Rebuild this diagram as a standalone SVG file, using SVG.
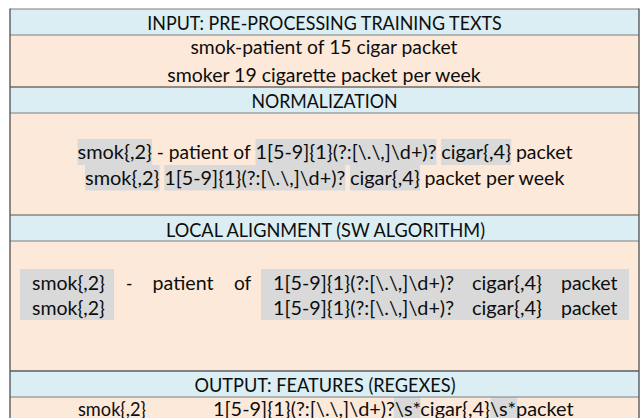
<svg xmlns="http://www.w3.org/2000/svg" width="644" height="418" viewBox="0 0 644 418">
  <style>
    .hdr { fill: #DAEEF3; }
    .body { fill: #FDE9D9; }
    .hl { fill: #D9D9D9; }
    .t { font-family: Lato, "Liberation Sans", "DejaVu Sans", sans-serif; font-size: 18.5px; fill: #0d0d0d; }
    .c { text-anchor: middle; }
    .sep { stroke: #7f7f7f; stroke-width: 1.2; }
    .sepd { stroke: #303030; stroke-width: 1.2; }
    .side { stroke: #5a5a5a; stroke-width: 1.4; }
  </style>
  <rect x="0" y="0" width="644" height="418" fill="#ffffff"/>

  <g id="input-header">
    <rect class="hdr" x="10" y="9" width="629" height="26"/>
    <text class="t c" x="324.5" y="29.5" textLength="354.5" lengthAdjust="spacingAndGlyphs">INPUT: PRE-PROCESSING TRAINING TEXTS</text>
  </g>
  <g id="input-body">
    <rect class="body" x="10" y="35" width="629" height="52"/>
    <text class="t c" x="324" y="53.5" textLength="267" lengthAdjust="spacingAndGlyphs">smok-patient of 15 cigar packet</text>
    <text class="t c" x="324" y="81.5" textLength="313.5" lengthAdjust="spacingAndGlyphs">smoker 19 cigarette packet per week</text>
  </g>

  <g id="normalization-header">
    <rect class="hdr" x="10" y="87" width="629" height="26"/>
    <text class="t c" x="324.5" y="108" textLength="146" lengthAdjust="spacingAndGlyphs">NORMALIZATION</text>
  </g>
  <g id="normalization-body">
    <rect class="body" x="10" y="113" width="629" height="102"/>
    <rect class="hl" x="77.5" y="139" width="74.6" height="26"/>
    <rect class="hl" x="255.5" y="139" width="181" height="26"/>
    <rect class="hl" x="441.2" y="139" width="70" height="26"/>
    <rect class="hl" x="85" y="165" width="74.6" height="25.5"/>
    <rect class="hl" x="164.3" y="165" width="181" height="25.5"/>
    <rect class="hl" x="349.9" y="165" width="70" height="25.5"/>
    <text class="t" x="77.5" y="159" textLength="74.5" lengthAdjust="spacingAndGlyphs">smok{,2}</text>
    <text class="t" x="156.8" y="159" textLength="94" lengthAdjust="spacingAndGlyphs">- patient of</text>
    <text class="t" x="255.5" y="159" textLength="181" lengthAdjust="spacingAndGlyphs">1[5-9]{1}(?:[\.\,]\d+)?</text>
    <text class="t" x="441.2" y="159" textLength="70" lengthAdjust="spacingAndGlyphs">cigar{,4}</text>
    <text class="t" x="515.9" y="159" textLength="56.5" lengthAdjust="spacingAndGlyphs">packet</text>
    <text class="t" x="85" y="184.5" textLength="74.5" lengthAdjust="spacingAndGlyphs">smok{,2}</text>
    <text class="t" x="164.3" y="184.5" textLength="181" lengthAdjust="spacingAndGlyphs">1[5-9]{1}(?:[\.\,]\d+)?</text>
    <text class="t" x="349.9" y="184.5" textLength="70" lengthAdjust="spacingAndGlyphs">cigar{,4}</text>
    <text class="t" x="424.6" y="184.5" textLength="139.7" lengthAdjust="spacingAndGlyphs">packet per week</text>
  </g>

  <g id="alignment-header">
    <rect class="hdr" x="10" y="215" width="629" height="26"/>
    <text class="t c" x="325.5" y="237" textLength="319" lengthAdjust="spacingAndGlyphs">LOCAL ALIGNMENT (SW ALGORITHM)</text>
  </g>
  <g id="alignment-body">
    <rect class="body" x="10" y="241" width="629" height="130"/>
    <rect class="hl" x="20" y="269" width="94" height="51"/>
    <rect class="hl" x="261" y="269" width="368" height="51"/>
    <text class="t" x="32" y="290" textLength="73" lengthAdjust="spacingAndGlyphs">smok{,2}</text>
    <text class="t" x="126" y="290" textLength="6.4" lengthAdjust="spacingAndGlyphs">-</text>
    <text class="t" x="152.5" y="290" textLength="61" lengthAdjust="spacingAndGlyphs">patient</text>
    <text class="t" x="234" y="290" textLength="17.3" lengthAdjust="spacingAndGlyphs">of</text>
    <text class="t" x="273" y="290" textLength="181" lengthAdjust="spacingAndGlyphs">1[5-9]{1}(?:[\.\,]\d+)?</text>
    <text class="t" x="472" y="290" textLength="70" lengthAdjust="spacingAndGlyphs">cigar{,4}</text>
    <text class="t" x="561" y="290" textLength="56.5" lengthAdjust="spacingAndGlyphs">packet</text>
    <text class="t" x="32" y="315" textLength="73" lengthAdjust="spacingAndGlyphs">smok{,2}</text>
    <text class="t" x="273" y="315" textLength="181" lengthAdjust="spacingAndGlyphs">1[5-9]{1}(?:[\.\,]\d+)?</text>
    <text class="t" x="472" y="315" textLength="70" lengthAdjust="spacingAndGlyphs">cigar{,4}</text>
    <text class="t" x="561" y="315" textLength="56.5" lengthAdjust="spacingAndGlyphs">packet</text>
  </g>

  <g id="output-header">
    <rect class="hdr" x="10" y="371" width="629" height="26"/>
    <text class="t c" x="325" y="391.5" textLength="261" lengthAdjust="spacingAndGlyphs">OUTPUT: FEATURES (REGEXES)</text>
  </g>
  <g id="output-body">
    <rect class="body" x="10" y="397" width="629" height="21"/>
    <rect class="hl" x="394" y="397" width="26.6" height="21"/>
    <rect class="hl" x="490.5" y="397" width="26.6" height="21"/>
    <text class="t" x="78" y="416" textLength="68" lengthAdjust="spacingAndGlyphs">smok{,2}</text>
    <text class="t" x="213" y="416" textLength="360.6" lengthAdjust="spacingAndGlyphs">1[5-9]{1}(?:[\.\,]\d+)?\s*cigar{,4}\s*packet</text>
  </g>

  <g id="rules">
    <line class="sep" x1="10" y1="9" x2="639" y2="9"/>
    <line class="sep" x1="10" y1="35" x2="639" y2="35"/>
    <line class="sepd" x1="10" y1="87" x2="639" y2="87"/>
    <line class="sep" x1="10" y1="113" x2="639" y2="113"/>
    <line class="sepd" x1="10" y1="215" x2="639" y2="215" style="stroke:#555555"/>
    <line class="sep" x1="10" y1="241" x2="639" y2="241"/>
    <line class="sep" x1="10" y1="371" x2="639" y2="371" style="stroke-width:2"/>
    <line class="sep" x1="10" y1="397" x2="639" y2="397"/>
    <line class="side" x1="10" y1="8.4" x2="10" y2="418"/>
    <line class="side" x1="639" y1="8.4" x2="639" y2="418"/>
  </g>
</svg>
